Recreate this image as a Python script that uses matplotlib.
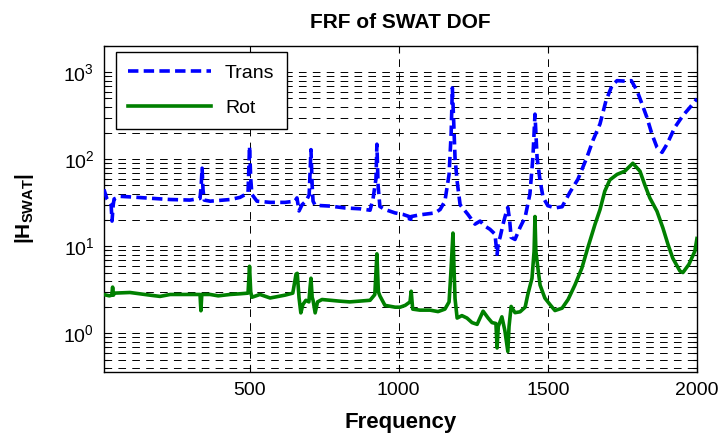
import matplotlib
matplotlib.use('Agg')
import matplotlib.pyplot as plt
from matplotlib import rcParams

# Fonts - Arial-like look
rcParams['font.family'] = ['Liberation Sans', 'DejaVu Sans']
rcParams['mathtext.fontset'] = 'custom'
rcParams['mathtext.rm'] = 'Liberation Sans'
rcParams['mathtext.it'] = 'Liberation Sans:italic'
rcParams['mathtext.bf'] = 'Liberation Sans:bold'
rcParams['lines.scale_dashes'] = False

# Translational DOF
trans_freq = [12, 22, 36, 39, 43, 46, 66, 99, 166, 234, 300, 334, 338, 341, 344, 348, 368, 435, 468, 495,
              500, 504, 508, 525, 569, 619, 652, 659, 666, 676, 689, 700, 706, 710, 713, 720, 770, 820, 870,
              904, 914, 924, 927, 931, 937, 954, 988, 1014, 1035, 1038, 1042, 1071, 1122, 1139, 1155, 1169,
              1176, 1180, 1184, 1189, 1196, 1206, 1232, 1256, 1273, 1290, 1306, 1323, 1327, 1330, 1334, 1340,
              1350, 1362, 1366, 1372, 1377, 1390, 1407, 1424, 1440, 1450, 1457, 1464, 1474, 1484, 1500, 1524,
              1548, 1574, 1601, 1631, 1651, 1675, 1695, 1715, 1732, 1760, 1780, 1799, 1816, 1832, 1849, 1866,
              1883, 1900, 1926, 1953, 1977, 2000]
trans_mag = [45, 35, 30, 19.5, 30, 35, 37.5, 37, 35.7, 34.5, 34, 35.5, 50, 79, 45, 34, 33, 34.5, 36.5, 41,
             141, 60, 39.5, 33, 32, 32, 33, 36, 25.5, 30, 33, 39, 129, 50, 33, 29.6, 29, 27.6, 27,
             26, 35, 60, 149, 50, 28.7, 26.5, 24.2, 23.3, 22, 18.5, 22, 23, 24.2, 26.5, 33, 67,
             200, 660, 300, 103, 56, 30, 23.3, 18, 19.5, 17, 15.7, 13.8, 10, 8.1, 11, 12.7,
             18, 25.7, 28, 20, 12.7, 12, 16.5, 21.6, 40, 105, 330, 105, 57, 36.6, 29.3, 27.6,
             28.5, 41.7, 59, 105, 164, 255, 470, 700, 800, 790, 800, 615, 430, 304, 195, 137,
             120, 150, 233, 318, 396, 494]

# Rotational DOF
rot_freq = [12, 30, 38, 41, 44, 46, 99, 166, 200, 234, 300, 334, 337, 340, 368, 395, 435, 468, 495, 500,
            504, 508, 535, 569, 619, 645, 656, 660, 666, 672, 679, 689, 699, 703, 706, 710, 713, 720, 728,
            743, 800, 836, 904, 920, 927, 932, 937, 954, 988, 1005, 1022, 1038, 1042, 1047, 1071, 1105,
            1132, 1155, 1169, 1175, 1182, 1186, 1189, 1196, 1212, 1229, 1246, 1263, 1283, 1300, 1313, 1326,
            1330, 1334, 1346, 1356, 1366, 1370, 1377, 1390, 1407, 1424, 1433, 1447, 1454, 1457, 1460, 1464,
            1474, 1490, 1507, 1524, 1548, 1568, 1591, 1614, 1634, 1658, 1675, 1691, 1708, 1732, 1758, 1785,
            1809, 1825, 1842, 1866, 1886, 1903, 1919, 1943, 1953, 1973, 1993, 2000]
rot_mag = [2.79, 2.7, 2.75, 3.4, 2.75, 2.9, 2.95, 2.75, 2.66, 2.8, 2.8, 2.8, 1.82, 2.8, 2.8, 2.7, 2.8, 2.85, 2.9, 5.9,
           3.0, 2.6, 2.8, 2.55, 2.75, 2.9, 4.8, 4.9, 2.56, 1.72, 2.15, 2.4, 2.3, 3.4, 4.3, 2.6, 2.4, 1.72, 2.3,
           2.45, 2.35, 2.3, 2.4, 2.79, 8.2, 3.0, 2.7, 2.1, 2.0, 2.0, 2.1, 2.3, 3.05, 1.9, 1.85, 1.85,
           1.78, 1.9, 2.3, 5, 14.2, 5, 2.5, 1.5, 1.6, 1.5, 1.33, 1.27, 1.8, 1.5, 1.33, 1.3,
           0.68, 1.2, 1.55, 1.08, 0.62, 1.2, 2.04, 1.73, 1.77, 2.0, 2.8, 4.3, 8.8, 22, 8.8, 6.7,
           3.6, 2.55, 2.15, 1.83, 1.95, 2.45, 3.6, 5.6, 9.6, 17.8, 26.4, 43, 58, 67, 73, 90,
           73, 51, 36, 25.3, 16.2, 10.5, 7.3, 5.2, 5.0, 6.2, 8.8, 12.3]

xticks = [500, 1000, 1500, 2000]

fig = plt.figure(figsize=(7.22, 4.37), dpi=100)
ax = fig.add_axes([0.144, 0.1487, 0.8213, 0.746])

ax.plot(trans_freq, trans_mag, color=(0, 0, 1), lw=2.6, dashes=(7.5, 3.8), label='Trans', zorder=3)
ax.plot(rot_freq, rot_mag, color=(0, 0.5, 0), lw=2.6, label='Rot', zorder=3)

ax.set_yscale('log')
ax.set_xlim(12, 2000)
ax.set_ylim(0.36, 2000)
ax.set_xticks(xticks)

# MATLAB style grid
gkw = dict(color='black', lw=0.7, dashes=(5.5, 4.5))
ax.grid(True, which='both', axis='y', **gkw)
ax.grid(True, which='major', axis='x', **gkw)
ax.set_axisbelow(True)

ax.tick_params(which='both', direction='in', top=True, right=True, labelsize=14, width=0.8)
ax.tick_params(which='major', length=5, pad=7)
ax.tick_params(which='minor', length=3)
ax.tick_params(axis='x', which='minor', bottom=False, top=False)
for s in ax.spines.values():
    s.set_linewidth(1.0)

ax.set_title('FRF of SWAT DOF', fontsize=15, fontweight='bold', pad=13)
ax.set_xlabel('Frequency', fontsize=16, fontweight='bold')
ax.set_ylabel(r'$\mathbf{|H_{SWAT}|}$', fontsize=15)
ax.xaxis.set_label_coords(0.5, -0.122)
ax.yaxis.set_label_coords(-0.115, 0.5)

leg = ax.legend(loc='upper left', bbox_to_anchor=(0.02, 0.982), borderaxespad=0, fontsize=14,
                handlelength=4.3, handletextpad=0.7, labelspacing=0.92, borderpad=0.62,
                fancybox=False, framealpha=1, edgecolor='black')
leg.get_frame().set_linewidth(1.0)

fig.savefig('out.png', dpi=100)
